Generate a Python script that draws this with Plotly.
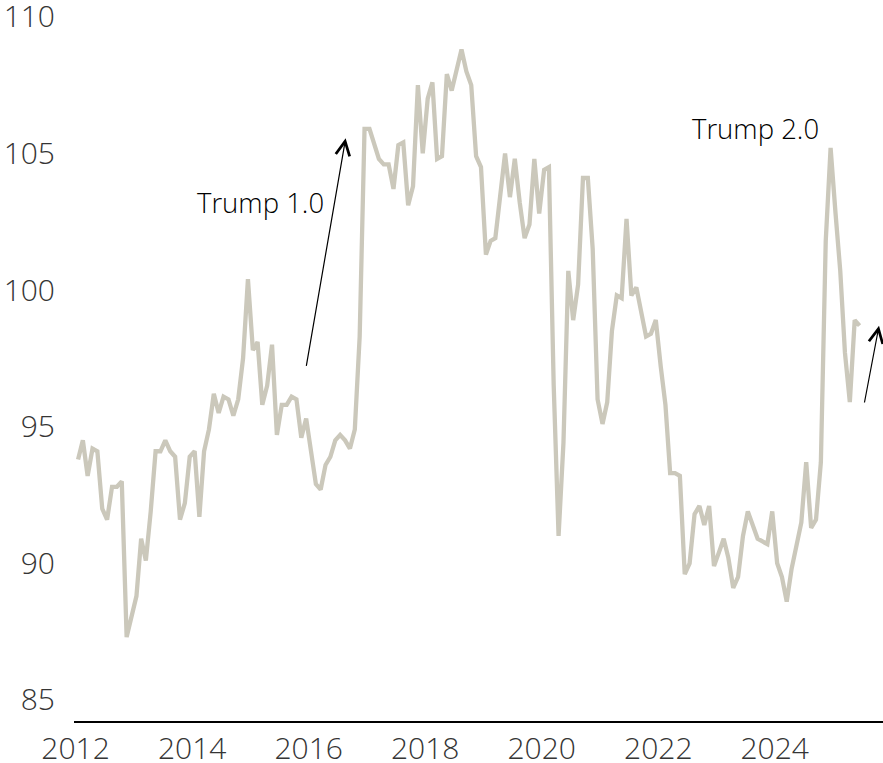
import pandas as pd
import plotly.graph_objects as go

# NFIB small business optimism index, monthly from January 2012
start_month = "2012-01"
index_values = [
    93.8, 94.5, 93.2, 94.2, 94.1, 92.0, 91.6, 92.8, 92.8, 93.0, 87.3, 88.1,   # 2012
    88.8, 90.9, 90.1, 91.9, 94.1, 94.1, 94.5, 94.1, 93.9, 91.6, 92.2, 93.9,   # 2013
    94.1, 91.7, 94.1, 94.9, 96.2, 95.5, 96.1, 96.0, 95.4, 96.0, 97.5, 100.4,  # 2014
    97.8, 98.1, 95.8, 96.5, 98.0, 94.7, 95.8, 95.8, 96.1, 96.0, 94.6, 95.3,   # 2015
    94.2, 92.9, 92.7, 93.6, 93.9, 94.5, 94.7, 94.5, 94.2, 94.9, 98.3, 105.9,  # 2016
    105.9, 105.4, 104.8, 104.6, 104.6, 103.7, 105.3, 105.4, 103.1, 103.8, 107.5, 105.0,  # 2017
    107.0, 107.6, 104.8, 104.9, 107.9, 107.3, 108.0, 108.8, 108.0, 107.5, 104.9, 104.5,  # 2018
    101.3, 101.8, 101.9, 103.4, 105.0, 103.4, 104.8, 103.2, 101.9, 102.4, 104.8, 102.8,  # 2019
    104.4, 104.5, 96.5, 91.0, 94.4, 100.7, 98.9, 100.2, 104.1, 104.1, 101.5, 96.0,    # 2020
    95.1, 95.9, 98.5, 99.8, 99.7, 102.6, 99.8, 100.1, 99.2, 98.3, 98.4, 98.9,    # 2021
    97.2, 95.8, 93.3, 93.3, 93.2, 89.6, 90.0, 91.8, 92.1, 91.4, 92.1, 89.9,    # 2022
    90.4, 90.9, 90.2, 89.1, 89.5, 91.0, 91.9, 91.4, 90.9, 90.8, 90.7, 91.9,    # 2023
    90.0, 89.5, 88.6, 89.8, 90.6, 91.5, 93.7, 91.3, 91.6, 93.7, 101.8, 105.2,  # 2024
    102.8, 100.7, 97.7, 95.9, 98.9, 98.7,                                       # 2025
]
y_ticks = [85, 90, 95, 100, 105, 110]
x_tick_labels = ["2012", "2014", "2016", "2018", "2020", "2022", "2024"]

months = pd.period_range(start_month, periods=len(index_values), freq="M").to_timestamp()

LINE_COLOR = "#cbc8bb"
TICK_COLOR = "#353535"
TEXT_COLOR = "#000000"
FONT = "Open Sans"

fig = go.Figure()
fig.add_trace(go.Scatter(
    x=months,
    y=index_values,
    mode="lines",
    line=dict(color=LINE_COLOR, width=4.3),
    xperiod="M1",
    xperiodalignment="middle",
    hoverinfo="x+y",
    showlegend=False,
))

# Election arrows and their labels
arrow_style = dict(
    showarrow=True, text="", axref="x", ayref="y", xref="x", yref="y",
    arrowhead=5, arrowsize=2.3, arrowwidth=1.2, arrowcolor="#000000",
)
fig.add_annotation(x="2016-08-20", y=105.55, ax="2015-12-16", ay=97.17, **arrow_style)
fig.add_annotation(x="2025-10-16", y=98.69, ax="2025-07-15", ay=95.83, **arrow_style)

label_style = dict(showarrow=False, xref="x", yref="y",
                   font=dict(family=FONT, size=27.5, color=TEXT_COLOR, weight=300))
fig.add_annotation(x="2015-03-08", y=103.2, text="Trump 1.0", **label_style)
fig.add_annotation(x="2023-09-04", y=105.9, text="Trump 2.0", **label_style)

fig.update_layout(
    width=883,
    height=763,
    margin=dict(l=74, r=0, t=5, b=42, autoexpand=False),
    paper_bgcolor="white",
    plot_bgcolor="white",
    font=dict(family=FONT, size=30, color=TICK_COLOR, weight=300),
    showlegend=False,
)
fig.update_xaxes(
    range=["2011-12-22", "2025-11-10"],
    tickvals=[f"{year}-01-01" for year in x_tick_labels],
    ticktext=x_tick_labels,
    showgrid=False,
    zeroline=False,
    showline=True,
    linecolor="#000000",
    linewidth=1.5,
    ticks="",
    ticklabelstandoff=0,
    automargin=False,
    ticklabeloverflow="allow",
)
fig.update_yaxes(
    range=[84.23, 110.43],
    tickvals=y_ticks,
    showgrid=False,
    zeroline=False,
    showline=False,
    ticks="",
    ticklabelstandoff=18,
    automargin=False,
    ticklabeloverflow="allow",
)

fig.write_html("out.html")
